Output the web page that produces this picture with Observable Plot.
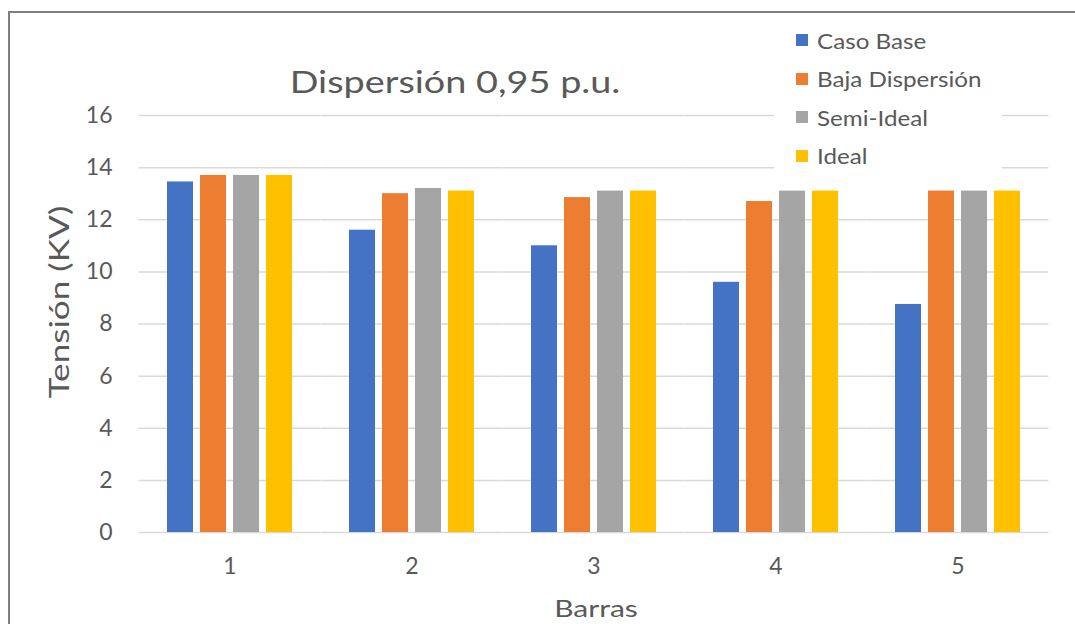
<!DOCTYPE html>
<html>
<head>
<meta charset="utf-8">
<script src="https://cdn.jsdelivr.net/npm/d3@7"></script>
<script src="https://cdn.jsdelivr.net/npm/@observablehq/plot@0.6"></script>
<style>
  body { margin: 0; background: #fff; font-family: Lato, "Open Sans", sans-serif; }
  #chart { position: relative; width: 1075px; height: 624px; overflow: hidden; background: #fff; }
  #chart svg { position: absolute; left: 0; top: 0; }
  #frame { position: absolute; left: 8px; top: 11px; right: -10px; bottom: -10px;
           border-top: 2.5px solid #7f7f7f; border-left: 2.5px solid #7f7f7f; pointer-events: none; }
  .txt { position: absolute; color: #595959; white-space: nowrap; line-height: 1; }
  #title { left: 455px; top: 81px; font-size: 31px; transform: translate(-50%, -50%) scaleX(1.22); }
  #ylabel { left: 59px; top: 302px; font-size: 26px; transform: translate(-50%, -50%) rotate(-90deg) scaleX(1.35); }
  #xlabel { left: 596px; top: 608px; font-size: 24px; transform: translate(-50%, -50%) scaleX(1.25); }
  #legend { position: absolute; left: 774px; top: 21px; width: 228px; height: 152px; background: #fff; }
  .item { position: absolute; left: 22px; height: 24px; display: flex; align-items: center;
          font-size: 22px; color: #595959; white-space: nowrap; }
  .swatch { width: 12px; height: 12px; margin-right: 9px; }
  .item .lbl { display: inline-block; transform: scaleX(1.1); transform-origin: left center; }
</style>
</head>
<body>
<div id="chart">
  <div id="title" class="txt">Dispersión 0,95 p.u.</div>
  <div id="ylabel" class="txt">Tensión (KV)</div>
  <div id="xlabel" class="txt">Barras</div>
  <div id="legend"></div>
  <div id="frame"></div>
</div>
<script>
// Bus numbers on the horizontal axis
const barras = ["1", "2", "3", "4", "5"];
// Scenario names, in legend order
const series = ["Caso Base", "Baja Dispersión", "Semi-Ideal", "Ideal"];
// Voltage per bus (kV) for each scenario
const casoBase       = [13.45, 11.6, 11.0, 9.6, 8.75];
const bajaDispersion = [13.7, 13.0, 12.85, 12.7, 13.1];
const semiIdeal      = [13.7, 13.2, 13.1, 13.1, 13.1];
const ideal          = [13.7, 13.1, 13.1, 13.1, 13.1];
const colores = ["#4472C4", "#ED7D31", "#A5A5A5", "#FFC000"];
const yTicks = [0, 2, 4, 6, 8, 10, 12, 14, 16];

const valores = [casoBase, bajaDispersion, semiIdeal, ideal];
const data = [];
barras.forEach((b, i) => {
  series.forEach((s, j) => data.push({ barra: b, serie: s, valor: valores[j][i] }));
});

const plot = Plot.plot({
  width: 1075,
  height: 624,
  marginLeft: 137,
  marginRight: 25,
  marginTop: 115,
  marginBottom: 92,
  style: { fontFamily: "Lato, 'Open Sans', sans-serif", fontSize: "23px", color: "#595959", background: "transparent", overflow: "visible" },
  fx: { domain: barras, paddingInner: 0.3, paddingOuter: 0.15 },
  x: { domain: series, paddingInner: 0.22, paddingOuter: 0, axis: null },
  y: { domain: [0, 16] },
  color: { domain: series, range: colores },
  marks: [
    // gridlines stretched across the gaps between bus groups
    Plot.ruleY(yTicks, { stroke: "#d9d9d9", strokeWidth: 1.5, insetLeft: -27.4, insetRight: -27.4 }),
    Plot.barY(data, { fx: "barra", x: "serie", y: "valor", fill: "serie" }),
    // the y axis sits on the first group's frame, so the padding also covers the outer gap
    Plot.axisY(yTicks, { tickSize: 0, tickPadding: 54, label: null, fill: "#595959" }),
    Plot.axisFx({ anchor: "bottom", tickSize: 0, tickPadding: 25, label: null, fill: "#595959" })
  ]
});
document.getElementById("chart").insertBefore(plot, document.getElementById("title"));

// Legend
const legend = document.getElementById("legend");
series.forEach((s, j) => {
  const item = document.createElement("div");
  item.className = "item";
  item.style.top = (7 + j * 38.5) + "px";
  const sw = document.createElement("span");
  sw.className = "swatch";
  sw.style.background = colores[j];
  const label = document.createElement("span");
  label.className = "lbl";
  label.textContent = s;
  item.appendChild(sw);
  item.appendChild(label);
  legend.appendChild(item);
});
</script>
</body>
</html>
